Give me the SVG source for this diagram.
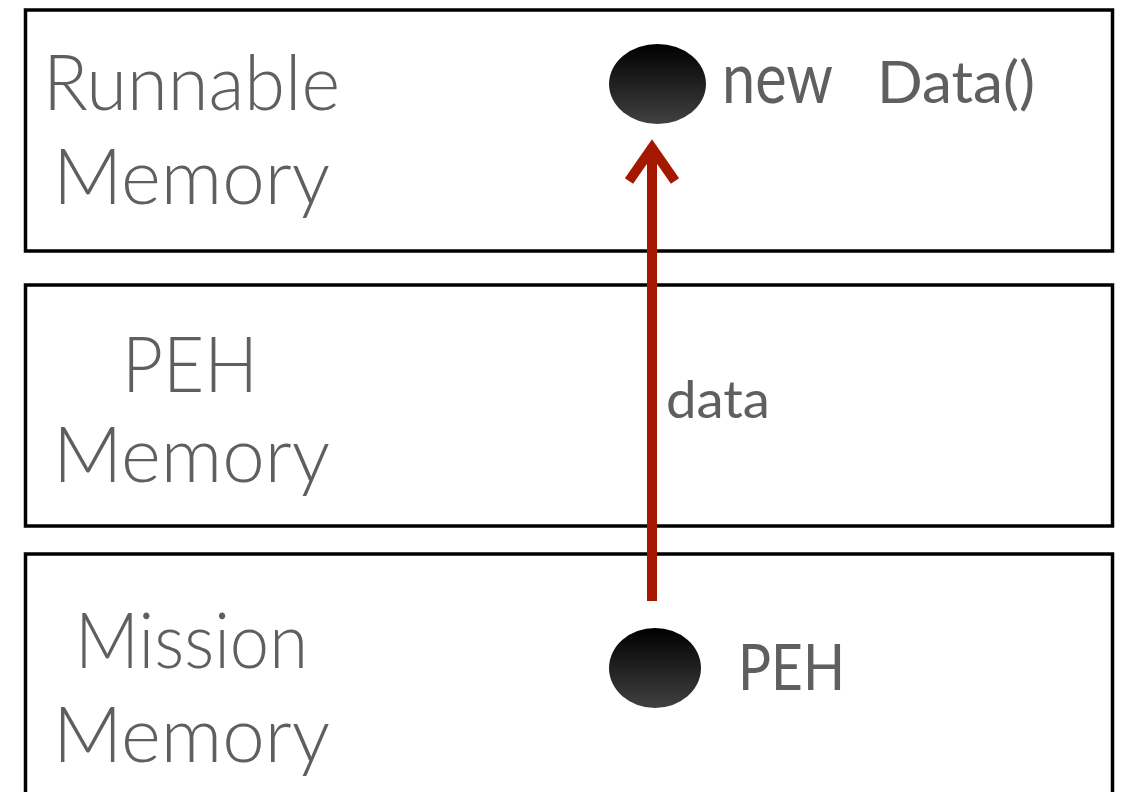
<svg xmlns="http://www.w3.org/2000/svg" width="1127" height="792" viewBox="0 0 1127 792">
  <style>
    .region { fill: #ffffff; stroke: #000000; stroke-width: 3.5; }
    .label { font-family: "Lato", "Open Sans", sans-serif; font-weight: 300; fill: #5f5f5f; }
    .big { font-size: 76px; }
    .note { font-family: "Lato", "Open Sans", sans-serif; font-weight: 400; fill: #5f5f5f; }
    .ref { fill: none; stroke: #a51800; stroke-width: 10; }
  </style>
  <defs>
    <linearGradient id="objFill" x1="0" y1="0" x2="0" y2="1">
      <stop offset="0" stop-color="#000000"/>
      <stop offset="1" stop-color="#414141"/>
    </linearGradient>
  </defs>
  <rect width="1127" height="792" fill="#ffffff"/>

  <g id="runnable-memory">
    <rect class="region" x="25.5" y="10" width="1087" height="241"/>
    <text class="label big" x="43" y="110" textLength="297" lengthAdjust="spacingAndGlyphs">Runnable</text>
    <text class="label big" x="53" y="204" textLength="277" lengthAdjust="spacingAndGlyphs">Memory</text>
  </g>

  <g id="peh-memory">
    <rect class="region" x="25.5" y="285" width="1087" height="241"/>
    <text class="label big" x="122" y="392" textLength="136" lengthAdjust="spacingAndGlyphs">PEH</text>
    <text class="label big" x="53" y="482" textLength="277" lengthAdjust="spacingAndGlyphs">Memory</text>
  </g>

  <g id="mission-memory">
    <rect class="region" x="25.5" y="554" width="1087" height="260"/>
    <text class="label big" x="75" y="668" textLength="233" lengthAdjust="spacingAndGlyphs">Mission</text>
    <text class="label big" x="53" y="762" textLength="277" lengthAdjust="spacingAndGlyphs">Memory</text>
  </g>

  <g id="data-object">
    <ellipse cx="657.5" cy="84" rx="48.5" ry="40" fill="url(#objFill)"/>
    <text class="note" x="722" y="103" font-size="72" textLength="111" lengthAdjust="spacingAndGlyphs">new</text>
    <text class="note" x="877" y="103" font-size="58" textLength="158" lengthAdjust="spacingAndGlyphs">Data()</text>
  </g>

  <g id="peh-object">
    <ellipse cx="655" cy="668" rx="46" ry="40" fill="url(#objFill)"/>
    <text class="note" x="738" y="690" font-size="64" textLength="107" lengthAdjust="spacingAndGlyphs">PEH</text>
  </g>

  <g id="connectors">
    <line class="ref" x1="652" y1="601" x2="652" y2="146"/>
    <polyline class="ref" points="629,181 652,148 675,181" stroke-linejoin="miter"/>
    <text class="note" x="666" y="418" font-size="52" textLength="104" lengthAdjust="spacingAndGlyphs">data</text>
  </g>
</svg>
